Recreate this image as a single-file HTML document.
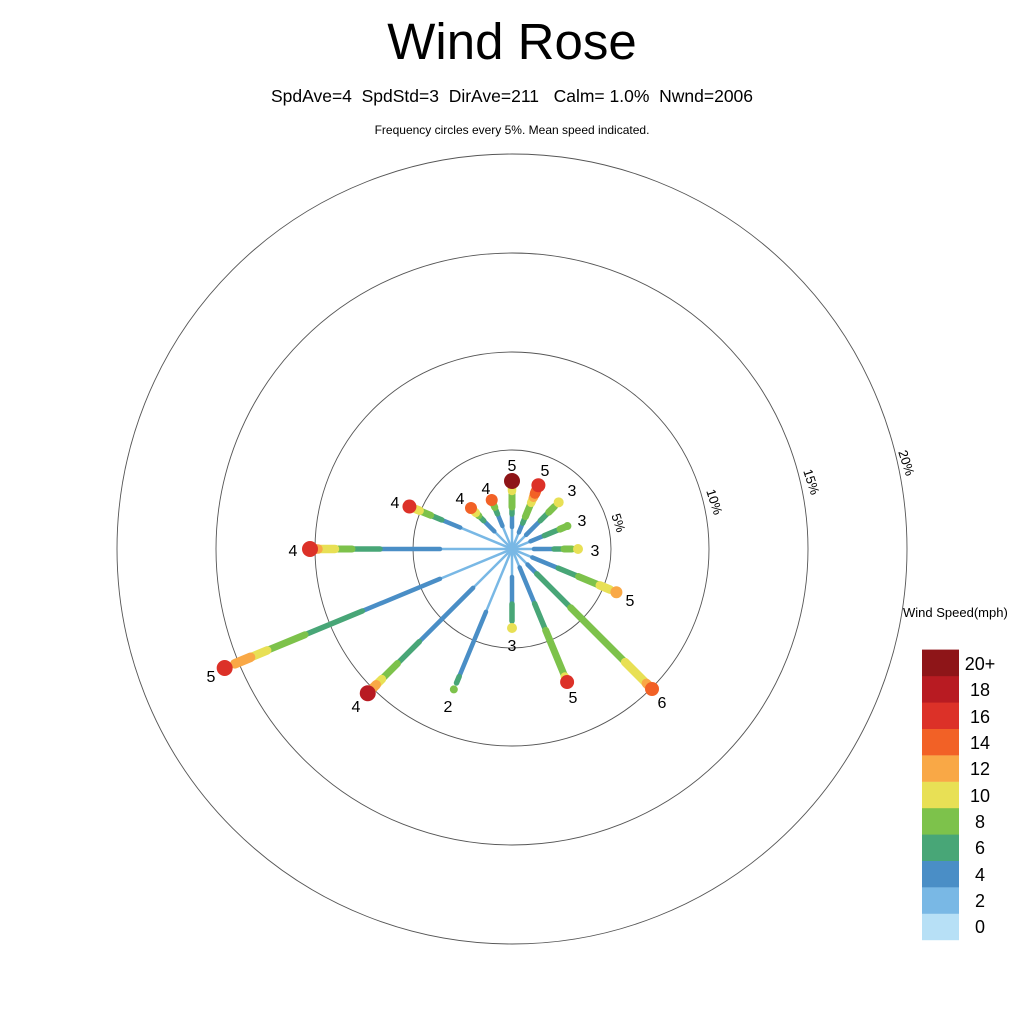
<!DOCTYPE html>
<html><head><meta charset="utf-8"><style>
html,body{margin:0;padding:0;background:#fff;}
svg{display:block;font-family:"Liberation Sans",sans-serif;}
.pre{white-space:pre;}
</style></head><body>
<svg id="s" width="1024" height="1024" viewBox="0 0 1024 1024" xmlns="http://www.w3.org/2000/svg">
<rect width="1024" height="1024" fill="#fff"/>
<text x="512" y="59" font-size="51" text-anchor="middle">Wind Rose</text>
<text class="pre" xml:space="preserve" x="512" y="102" font-size="17.5" text-anchor="middle">SpdAve=4  SpdStd=3  DirAve=211   Calm= 1.0%  Nwnd=2006</text>
<text x="512" y="134" font-size="12" text-anchor="middle">Frequency circles every 5%. Mean speed indicated.</text>
<g fill="none" stroke="#555" stroke-width="0.9">
<circle cx="512" cy="549" r="99"/>
<circle cx="512" cy="549" r="197"/>
<circle cx="512" cy="549" r="296"/>
<circle cx="512" cy="549" r="395"/>
</g>
<g font-size="13" text-anchor="middle">
<text transform="translate(618,523) rotate(72)" dy="4">5%</text>
<text transform="translate(714,502) rotate(72)" dy="4">10%</text>
<text transform="translate(811,482) rotate(72)" dy="4">15%</text>
<text transform="translate(906,463) rotate(72)" dy="4">20%</text>
</g>
<g id="spokes"></g>
<g font-size="16" text-anchor="middle">
<text x="512" y="471">5</text>
<text x="545" y="476">5</text>
<text x="572" y="496">3</text>
<text x="582" y="526">3</text>
<text x="595" y="556">3</text>
<text x="630" y="606">5</text>
<text x="662" y="708">6</text>
<text x="573" y="703">5</text>
<text x="512" y="651">3</text>
<text x="448" y="712">2</text>
<text x="356" y="712">4</text>
<text x="211" y="682">5</text>
<text x="293" y="556">4</text>
<text x="395" y="508">4</text>
<text x="460" y="504">4</text>
<text x="486" y="494">4</text>
</g>
<text x="903" y="617" font-size="13">Wind Speed(mph)</text>
<g id="legend"></g>
<g font-size="18" text-anchor="middle">
<text x="980" y="670">20+</text>
<text x="980" y="696">18</text>
<text x="980" y="723">16</text>
<text x="980" y="749">14</text>
<text x="980" y="775">12</text>
<text x="980" y="802">10</text>
<text x="980" y="828">8</text>
<text x="980" y="854">6</text>
<text x="980" y="881">4</text>
<text x="980" y="907">2</text>
<text x="980" y="933">0</text>
</g>
</svg>
<script>
var C=["#79b8e5","#4a8ec6","#48a677","#7dc24b","#e8e055","#f9a846","#f26126","#dc3128","#b81b22","#8e1518"];
var W=[2.5,4.5,5.5,7,8.5,9.5,10.5,11.5,12.5,13.5];
var L=["#b7e0f6","#79b8e5","#4a8ec6","#48a677","#7dc24b","#e8e055","#f9a846","#f26126","#dc3128","#b81b22","#8e1518"];
var ns="http://www.w3.org/2000/svg";
var lg=document.getElementById("legend");
for(var i=0;i<11;i++){var r=document.createElementNS(ns,"rect");r.setAttribute("x",922);r.setAttribute("y",940-(i+1)*26.4);r.setAttribute("width",37);r.setAttribute("height",26.6);r.setAttribute("fill",L[i]);lg.appendChild(r);}
var S=[
[0,[22,35,42,58,63],9,68,8],
[22.5,[18,28,35,50,56,60,63],7,69,7],
[45,[20,40,52,60],4,66,5],
[67.5,[20,35,52,58],3,60,4],
[90,[22,42,52,60],4,66,5],
[112.5,[22,50,72,95,106],5,113,6],
[135,[22,35,83,160,190,194],6,198,7],
[157.5,[20,59,88,138,141],7,144,7],
[180,[28,55,72],4,79,5],
[202.5,[68,138,145],3,152,4],
[225,[55,131,162,184,192,196],8,204,8],
[247.5,[78,162,224,265,283,300],7,311,8],
[270,[72,132,160,177,194,198],7,202,8],
[292.5,[56,76,88,100,104],7,111,7],
[315,[25,40,47,51,54],6,58,6],
[337.5,[25,38,45,48],6,53,6]
];
var g=document.getElementById("spokes"),cx=512,cy=549;
S.forEach(function(s){
 var t=s[0]*Math.PI/180,sx=Math.sin(t),sy=-Math.cos(t),prev=0;
 s[1].forEach(function(r,i){
  var l=document.createElementNS(ns,"line");
  l.setAttribute("x1",cx+prev*sx);l.setAttribute("y1",cy+prev*sy);
  l.setAttribute("x2",cx+r*sx);l.setAttribute("y2",cy+r*sy);
  l.setAttribute("stroke",C[i]);l.setAttribute("stroke-width",W[i]);
  l.setAttribute("stroke-linecap",i==0?"butt":"round");
  g.appendChild(l);prev=r;
 });
 var c=document.createElementNS(ns,"circle");
 c.setAttribute("cx",cx+s[3]*sx);c.setAttribute("cy",cy+s[3]*sy);c.setAttribute("r",s[4]);c.setAttribute("fill",C[s[2]]);
 g.appendChild(c);
});
</script>
</body></html>
